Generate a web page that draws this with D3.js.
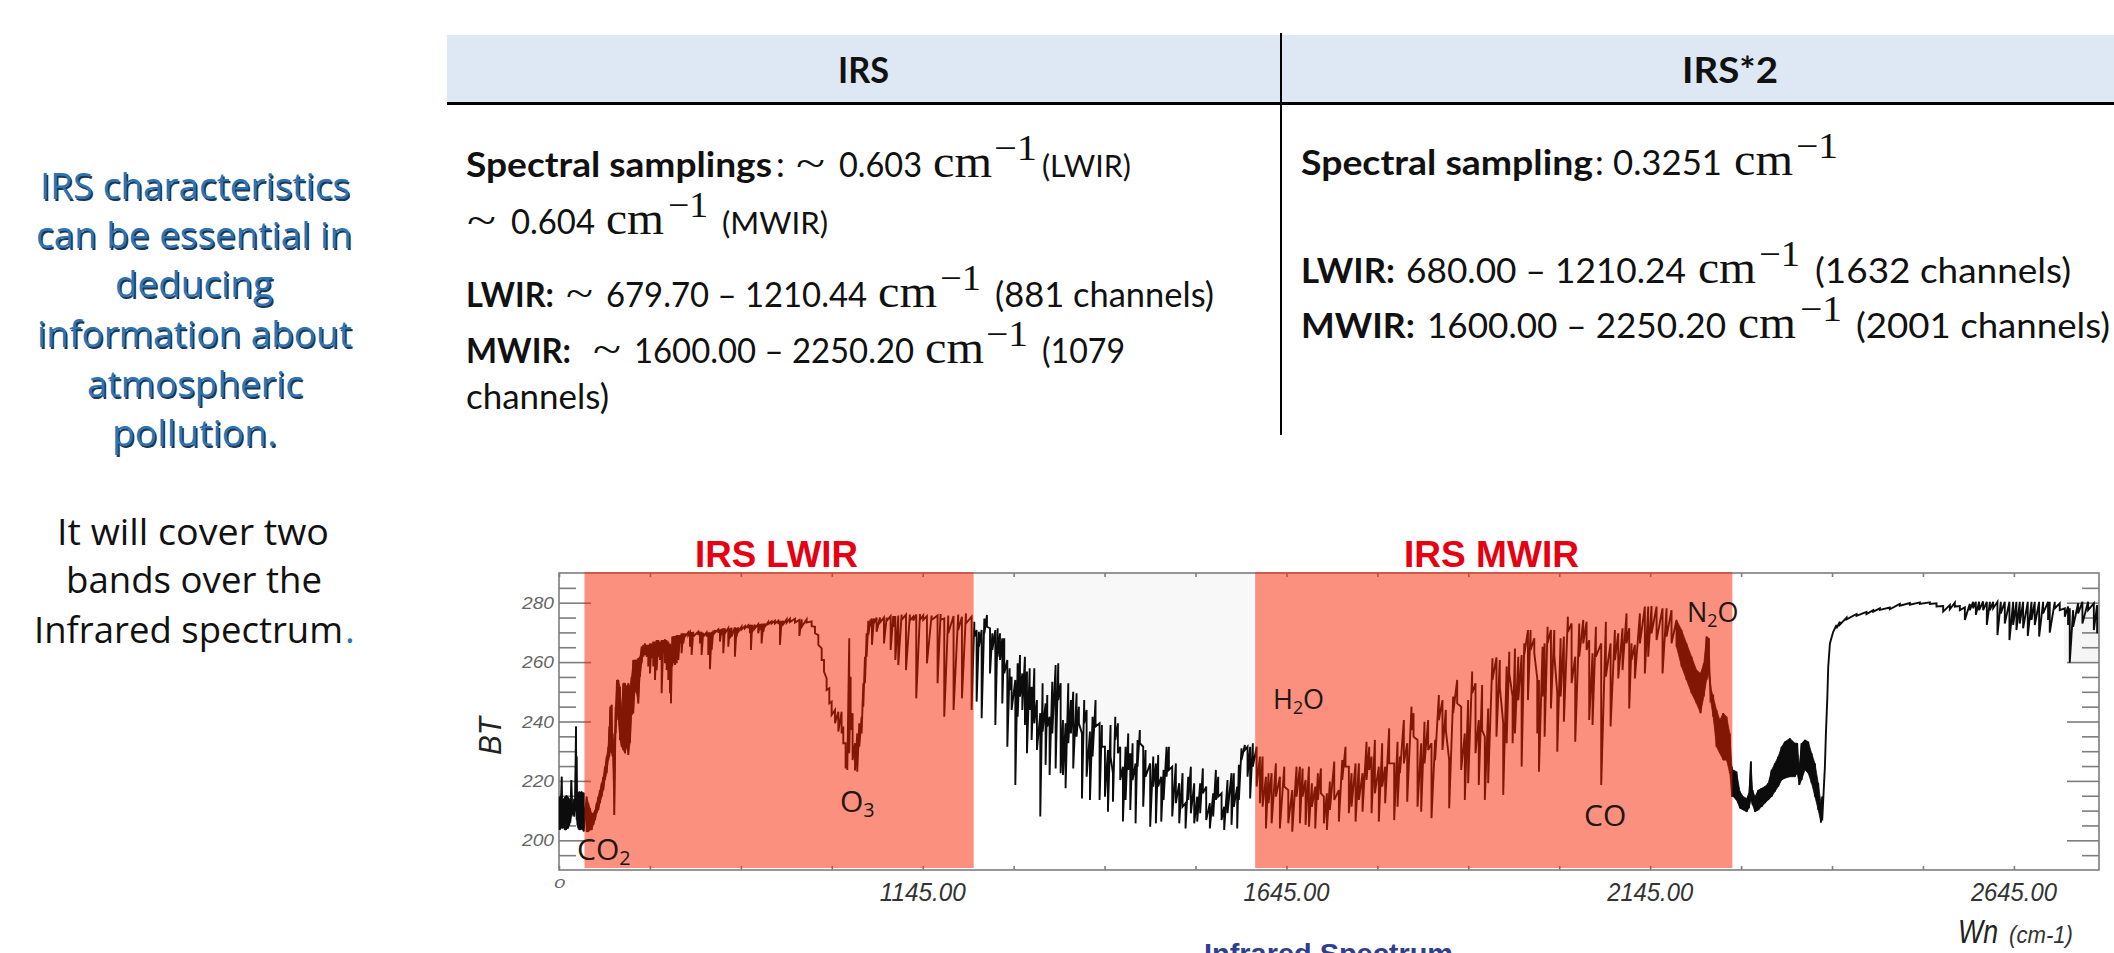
<!DOCTYPE html>
<html>
<head>
<meta charset="utf-8">
<style>
  body { margin: 0; background: white; }
  svg { display: block; }
  text { font-family: Lato, sans-serif; fill: #111; }
  .bold { font-weight: 700; }
  .math { font-family: "Liberation Serif", serif; }
  .side { font-family: "Open Sans", sans-serif; }
  .chart { font-family: "Liberation Sans", sans-serif; }
  .gas { font-family: "Open Sans", sans-serif; fill: #231512; }
</style>
<script src="https://cdn.jsdelivr.net/npm/d3@7"></script>
</head>
<body>
<svg id="slide" width="2114" height="953"></svg>
<script>
// each row: wavenumber, top of the trace, bottom of the trace (BT)
const farLeft = [[646,214.7,203.5],[647.5,215,204],[648.7,221.4,204.5],[650,213.5,204],[651.5,214,204.5],[653,214.5,203.5],[654.5,215,203.5],[656,215,204],[657.5,214.5,204],[659,214,205],[660.5,213,206],[662,220.3,208],[664,212,209],[666,214,208],[667,214,210],[668.4,238.3,213],[669.3,228.2,207],[670.5,215,205],[671.6,216,204],[673,216.4,203.5],[674.5,216,203.5],[676,216.4,204],[677.5,216,203.5],[679,216,203]];

const co2Rise = [[683,214.7,202.9],[685.3,212.5,202.9],[687.6,210.8,203.5],[689.9,209.1,203.5],[692.2,209.1,205.2],[694.5,210.2,206.8],[696.8,212.5,209.1],[699,214.7,210.2],[701.3,216.9,212.5],[703.6,219.2,214.7],[705.9,221.4,216.9],[708.2,224.8,220.3],[710.5,228.2,222.6],[712.8,231.5,227],[714.2,238.3,228.2],[715.5,245,230.4],[717.4,245.6,229.3],[718.7,236,228.2],[721,231.5,208.5],[722.9,245,236],[724.7,254,242.8],[726.5,254,240.5],[728.8,251.7,233.8],[731.1,243.9,231.5],[733.4,252.9,230.4],[735.7,252.9,229.3],[738,251.7,231.5],[740.3,252.9,228.7],[742.6,251.7,232.7],[744.8,255.1,242.2],[747.1,260.7,242.8],[749.4,260.7,250.6],[751.7,260.7,249.5],[754,261.3,246.1],[756.3,261.8,255.1],[758.6,265.2,259.6]];

const windowLwir = [[760.9,265.8,261.8],[763.2,266.3,262.4],[765.5,265.8,261.8],[767.7,265.8,258.5],[770,266.3,256.2],[772.3,266.3,261.3],[774.6,266.9,258.5],[776.9,266.9,254],[779.2,267.4,257.3],[781.5,267.4,261.8],[783.8,266.9,260.7],[786.1,267.4,249.5],[788.4,267.4,263],[790.6,267.7,259.6],[792.9,267.4,257.3],[795.2,266.9,254],[797.5,266.3,249.5],[798.9,265.8,246.1],[800.7,268.6,258.5],[802.5,268.8,259.6],[804.4,268.8,259],[806.7,269.1,259.6],[809,269.1,260.7],[811.3,269.1,266.3],[813.5,269.7,263],[815.8,269.7,266.3],[818.1,269.7,268.6],[822.7,270,269.1],[825,270,265.2],[827.3,270.1,262.4],[829.6,270.2,268.6],[836.4,270.2,269.1],[838.7,270.2,266.3],[841,270.2,262.4],[843.3,269.9,268.6],[847.9,270,268.6],[850.2,270,262.4],[852.5,270,257.6],[854.8,270.2,264.1],[857.1,270.6,269.1],[859.3,270.8,269.9],[863.9,271,269.9],[866.2,271,266.9],[868.5,271.2,269.1],[870.8,271.4,263],[873.1,271.4,269.7],[877.7,271.4,265.2],[880,271.4,268],[882.2,271.6,268.6],[886.8,271.7,261.8],[889.1,271.6,268.6],[891.4,271.7,270.2],[896,271.9,271],[900.6,272.1,271.4],[905.1,272.4,271.4],[907.4,272.5,269.7],[908.8,272.6,264.1],[910.6,272.6,270.2],[914.3,272.6,271.4],[918.9,272.8,269.7],[921.2,272.8,270.8],[923.5,272.9,266.3],[925.8,273,270.2],[928,273,271.9],[932.6,273.5,272.8],[937.2,273.7,273],[941.8,273.9,273],[946.4,273.9,272.8],[948.7,273.9,265.8],[950.9,273.9,272.5],[953.4,273.9,272.8],[958,274.4,273.3],[962.5,274.6,273.5],[969.4,274.6,273.3],[975.4,274.2,268.8],[978.6,274.4,271.9],[985.4,274.4,273.3],[992.3,273.7,272.1],[996.9,271.9,269.7]];

const ozoneBand = [[1001.5,269.1,265.8],[1006.1,264.6,260.7],[1009.3,260.7,256.8],[1012.9,254.5,250.6],[1016.6,251.2,246.1],[1019.8,246.7,242.2],[1024.4,243.9,239.4],[1029,243.3,236.6],[1033.5,243.3,236],[1035.8,238.3,232.7],[1039,232.7,224.2],[1041.3,228.2,223.7],[1044,268,229.3],[1045.9,255.1,237.2],[1048.6,242.8,227],[1051.9,232.7,223.5],[1055,236,223.1],[1057.8,239.4,231.5],[1061,241.6,236],[1063.3,252.9,245],[1065.6,261.8,252.9],[1067.9,269.7,261.8],[1070.2,273.9,269.1]];

const windowUpper = [[1073.4,274.4,272.1],[1075.2,274.7,265.8],[1078,274.7,273],[1081.6,275,270.2],[1086.2,275,273.3],[1091.7,275,266.3],[1095.4,275,273.9],[1100.9,275.5,264.1],[1104.5,275.5,271.9],[1107.3,275.5,260.7],[1111.4,275.7,259],[1116,276,274.2],[1122,276,257.3],[1127.4,276,274],[1132,275.3,274],[1136.1,276,247.8],[1141.2,276.2,274.2],[1145.7,275.7,274.2],[1150.8,275.5,259.6],[1157.2,275.7,274.2],[1165.4,275.7,252.9],[1169.6,276.2,274.2],[1174.6,274.7,241.6],[1180.1,275.7,269.7],[1187.4,275.5,243.9],[1193.8,276,270.8],[1198.9,275.3,247.8],[1204.4,276.4,273],[1212.2,275.3,243.9]];

const gapRows = [[1215.9,273.6,268.6],[1219.1,270.8,246.7],[1222.3,270.2,265.2],[1226,270.8,241.1],[1229.7,274.7,269.7],[1233.3,275.9,271.9],[1237.5,271.4,256.2],[1240.7,269.7,264.1],[1244.8,270.8,238.8],[1248,271.4,261.8],[1251.2,269.7,260.7],[1254.4,268,246.1],[1257.1,268,256.2],[1261.3,260.7,231.5],[1264.5,257.9,250.6],[1267.2,255.1,243.9],[1272.3,254,218.6],[1275.5,259.6,241.6],[1278.7,262.4,248.4],[1281.9,256.2,243.9],[1285.5,261.8,238.8],[1288.3,256.8,229.3],[1292,257.9,243.9],[1294.7,251.7,233.8],[1298.4,257.9,239.4],[1302,247.2,230.4],[1306.6,242.8,208],[1309.8,252.9,236.6],[1313.9,246.1,225.4],[1316.2,248.9,238.3],[1319.4,241.6,222],[1323.1,253.4,236],[1327.7,259,224.2],[1331.3,259.6,247.2],[1334.6,252.9,222.6],[1337.8,240.5,222],[1341.4,239.4,217.5],[1345.1,252.9,232.7],[1348.7,247.2,236],[1351.9,250,224.2],[1356.5,249.5,234.9],[1359.7,245,239.4],[1363.9,236,214.1],[1367,247.2,239.4],[1370.3,243.9,221.4],[1374.9,236.6,213.6],[1378.5,241.6,228.2],[1382.6,247.2,238.3],[1388.1,239.4,213.6],[1391.3,238.8,231.5],[1395.5,231.5,214.7],[1399.6,230.4,209.6],[1403.2,238.8,228.2],[1406.5,222.6,213],[1409.7,241.6,233.8],[1413.3,239.4,229.3],[1416.5,231.5,220.3],[1420.2,224.8,206.3],[1423.9,231.5,213.6],[1427.5,236,223.7],[1430.3,229.3,210.2],[1433.5,232.7,220.3],[1437.6,225.9,205.7],[1440.3,233.8,224.8],[1443.5,237.1,232.7],[1448.1,231.5,211.3],[1451.3,230.4,221.4],[1457.7,225.9,204.6],[1461.9,228.2,218.1],[1465.5,225.9,205.7],[1468.7,228.7,218.1],[1472.9,221.4,206.3],[1476.1,223.7,213.6],[1480.2,231.5,221.4],[1483.4,231.5,223.7],[1488,224.8,208],[1493,225.9,212.5],[1497.6,219.2,205.7],[1502.2,222.6,211.3],[1506.3,212.5,204],[1510,221.4,213.6],[1513.6,224.8,209.1],[1518.2,219.2,205.7],[1522.3,214.7,206.3],[1526.4,219.2,209.1],[1530.1,224.2,215.8],[1534.7,218.1,206.8],[1539.7,212.5,204],[1544.3,215.8,208],[1548,223.7,213.6],[1551.2,221.4,214.7],[1555.8,215.8,206.8],[1559.4,211.3,203.5],[1564,220.3,209.1],[1569.5,222.6,205.2],[1572.7,222.6,211.3],[1577.3,218.1,204],[1579.6,225.4,213.6],[1583.2,231,227],[1587.8,232.1,230.4],[1591.5,231.5,221.4],[1595.1,231.5,214.1],[1598.8,232.7,224.8]];

const waterBand = [[1604,231.5,218.1],[1608.5,228.2,212.5],[1612.2,228.2,211.3],[1616.8,221.4,204],[1620.4,222.6,212.5],[1624.6,222.6,205.7],[1630.5,225.9,214.7],[1636,221.4,204],[1642,224.8,218.1],[1647.5,216.9,205.7],[1653,216.9,202.9],[1658.9,224.8,214.7],[1663.5,224.8,205.7],[1667.2,224.2,214.7],[1671.3,220.3,205.2],[1675.9,224.8,204.6],[1680,219.2,211.3],[1684.6,218.1,204],[1688.2,222.6,213.6],[1692.4,224.2,215.8],[1696.5,214.7,205.7],[1700.6,215.8,203.5],[1704.7,219.8,210.2],[1710.7,226.5,213.6],[1717.1,216.9,206.3],[1721.7,227,220.3],[1726.2,231.5,224.8],[1730.8,224.8,209.1],[1734.5,222.6,211.3],[1740,225.9,206.3],[1744.6,225.9,213.6],[1749.6,222.6,209.6],[1755.1,233.2,220.3],[1758.8,231.5,223.7],[1762,228.2,209.1],[1766.6,233.8,215.8],[1772,224.8,206.3],[1776.6,232.7,218.1],[1780.7,224.8,212.5],[1786.2,237.7,225.9],[1793.1,225.9,206.8],[1797.7,233.2,211.3],[1801,228.2,222.6],[1806.4,240.5,225.9],[1811,232.7,213],[1816.9,245,237.1],[1819.7,242.8,234.9],[1825.2,233.8,211.3],[1830.2,232.7,209.6],[1834.8,239.9,225.9],[1839.8,240.5,230.4],[1844.4,232.7,207.4],[1849.4,233.8,227],[1854.5,248.9,240.5],[1859.5,247.2,230.4],[1864.1,243.9,237.1],[1868.7,227,210.8],[1874.2,248.4,242.8],[1879.7,254,246.1],[1885.2,245,223.7],[1890.2,236,213.6],[1894.8,247.2,219.2],[1900.3,256.8,249.5],[1904.9,252.9,229.3],[1909.4,240.5,218.6],[1914,252.3,237.1],[1917.7,234.9,213.6],[1922.3,244.4,219.2],[1928.2,261.3,254],[1933.7,261.6,234.9],[1938.3,260.7,251.7],[1943,239.4,215.3],[1947.7,258.5,232.7],[1951.3,263.5,256.2],[1955.9,248.4,232.7],[1959.1,264.6,236],[1963.7,261.8,247.2],[1968.3,262.4,224.8],[1971.9,266.3,262.4],[1977,270.8,247.2],[1980.6,270.8,264.1],[1985.7,268,263],[1989.8,254.5,236],[1992.1,254,223.1],[1997.1,265.2,248.4],[1999.9,266.3,234.9],[2004,271.9,266.3],[2008.6,270.8,244.4],[2013.2,270.8,262.4],[2017.3,249.5,229.8],[2021.9,268,248.4],[2026.4,268.6,239.9],[2031.9,275.3,270.2],[2037,273,252.9],[2042,261.8,233.2],[2047.5,273,261.8],[2053,274.2,266.3],[2057.6,273.6,264.1],[2061.2,267.4,240.5],[2065.8,263,238.8],[2070.4,271.9,261.8],[2077.7,266.3,218.6],[2084.1,273.6,255.1],[2090.6,266.3,238.3],[2096.5,270.8,260.7],[2101.1,269.7,254.5],[2107,271.4,257.3],[2112.5,276.4,266.3],[2116.2,271.4,244.4],[2119.4,266.3,260.7],[2124,265.8,254.5],[2130.9,276.4,266.3],[2137.7,278.7,256.2],[2142.3,278.7,261.8],[2146.9,278.9,269.7],[2153.8,278.7,267.4],[2162,278.1,256.2],[2167.5,278.1,268.6],[2174.4,277.5,266.3]];

// the falling wing and the bump after it read as a solid band
const fallingWing = [[2181.2,274.2,265.2],[2188.1,270.8,258.5],[2195,266.3,254],[2201.9,261.8,249.5],[2208.7,257.3,246.1],[2214.2,256.2,242.8],[2218.8,259.6,248.4],[2222.5,268.6,254],[2225.7,268,256.8],[2228,251.7,247.2],[2231.6,248.4,241.6],[2236.2,243.9,231.5],[2240.8,240.5,229.3],[2245.4,242.8,227],[2250,241.6,227],[2254.5,236,222.6],[2257.3,224.8,214.7]];

const secondBump = [[2259.1,223.7,214.7],[2263.7,223.1,213.6],[2268.4,216.4,210.8],[2273,214.7,210.2],[2277.6,214.1,209.6],[2280.8,215.8,210.8],[2283.5,226.5,213.6],[2285.8,216.9,211.9],[2289.1,214.7,209.6],[2293.6,216.9,210.2],[2298.2,217.5,211.3],[2302.8,218.1,212.5],[2307.3,219.2,213.6],[2312,223.7,214.7],[2316.5,225.9,216.4],[2321.1,228.2,218.1],[2325.7,231.5,220.3],[2330.2,233.2,220.9],[2337.1,234.3,221.4],[2344,232.7,221.4],[2347.2,232.7,222.6],[2350,224.8,218.6],[2353.1,232.7,220.3],[2357.7,233.8,223.7],[2362.3,233.2,222.6],[2366.9,229.3,219.2],[2371.5,225.9,214.7],[2376.1,219.2,210.2],[2379.7,212.5,206],[2381.5,214.7,206.8]];

const risingEdge = [[2385.2,224.8,224.8],[2386.6,236,236],[2388.4,247.2,247.2],[2389.8,258.5,258.5],[2392.1,266.3,266.3],[2396.6,270.2,270.2]];

const highWing = [[2401.2,272.5,271.4],[2405.8,273.6,272.6],[2415,275,274.4],[2428.7,276.2,275.6],[2442.4,276.9,276.2],[2451.6,277.5,277],[2460.8,278.1,277.6],[2474.5,278.4,277.8],[2488.2,279.6,279],[2502,279.9,279.3],[2515.7,280.1,279.6],[2529.5,280.1,279.6],[2538.6,279.8,278.7],[2547.8,278.9,277],[2557,279.2,277.8],[2563.8,280,278.7],[2570.7,278.9,277.5],[2577.6,278.4,274.2],[2584.4,279.6,277.5],[2589,280.3,278.1],[2592.7,280.3,275.9],[2597.2,280.3,277.5],[2602.7,280.4,277.5],[2607.8,280.3,272.5],[2612,280.3,277.5],[2616.5,280.3,278.1],[2622.4,280.3,269.1],[2627,280.3,276.4],[2632.5,280.3,273],[2638.9,280.3,267.4],[2644,280.3,272.5],[2648.5,280.3,270.8],[2653.1,280.3,273],[2657.7,280.3,271.4],[2664.1,280.3,268.8],[2669.2,280.3,274.2],[2673.7,280.3,272.5],[2679.7,280.3,268.6],[2685.2,280.3,276.4],[2692,280.3,274.2],[2694.3,280.3,269.9],[2701.2,280.3,278.1],[2708,279.8,277.5],[2715,278.1,275.3],[2719.5,278.7,272.5],[2721.8,278.1,259.8],[2726.4,277.5,271.9],[2733.3,279.8,276.4],[2739.2,280.3,273],[2747,280.3,277.5],[2754.9,279.8,270.8],[2759.4,279.2,269.7]];

// band limits in cm-1
const lwirBand = [680, 1215];
const mwirBand = [1602, 2258];
const bandNames = ["IRS LWIR", "IRS MWIR"];

const xDomain = [645, 2762];
const yDomain = [190, 290];
const xTicks = [645,770,895,1020,1145,1270,1395,1520,1645,1770,1895,2020,2145,2270,2395,2520,2645];
const xLabelled = [1145, 1645, 2145, 2645];
const yMajor = [200, 220, 240, 260, 280];
const yMinor = [195,205,210,215,225,230,235,245,250,255,265,270,275,285];

const svg = d3.select("#slide");

// positions one run of text and forces its measured width
function put(parent, x, y, str, cls, size, width) {
  let t = parent.append("text").attr("x", x).attr("y", y).attr("class", cls).style("font-size", size + "px").text(str);
  if (width) t.attr("textLength", width).attr("lengthAdjust", "spacingAndGlyphs");
  return t;
}

function drawHeader() {
  svg.append("rect").attr("x", 447).attr("y", 35).attr("width", 1667).attr("height", 67).attr("fill", "#dde8f4");
  svg.append("rect").attr("x", 447).attr("y", 102).attr("width", 1667).attr("height", 3).attr("fill", "#000");
  svg.append("rect").attr("x", 1280).attr("y", 33).attr("width", 2).attr("height", 402).attr("fill", "#000");
  put(svg, 838, 83, "IRS", "bold", 36, 51);
  put(svg, 1682, 83, "IRS*2", "bold", 36, 96);
}

function cm(x, y, wCm, supX, wSup) {
  put(svg, x, y, "cm", "math", 46, wCm);
  put(svg, supX, y - 17, "\u22121", "math", 36, wSup);
}

function drawTable() {
  let size = 35;
  // left column
  put(svg, 466, 177, "Spectral samplings", "bold", size, 306);
  put(svg, 776, 177, ":", "", size);
  put(svg, 796, 177, "~", "math", 40, 29);
  put(svg, 839, 177, "0.603", "", size, 83);
  cm(933, 177, 59, 994, 43);
  put(svg, 1042, 177, "(LWIR)", "", 30, 89);

  put(svg, 467, 234, "~", "math", 40, 29);
  put(svg, 511, 234, "0.604", "", size, 84);
  cm(606, 234, 58, 668, 40);
  put(svg, 722, 234, "(MWIR)", "", 30, 106);

  put(svg, 466, 307, "LWIR:", "bold", size, 88);
  put(svg, 566, 307, "~", "math", 40, 27);
  put(svg, 606, 307, "679.70 \u2013 1210.44", "", size, 261);
  cm(878, 307, 59, 940, 41);
  put(svg, 995, 307, "(881 channels)", "", size, 219);

  put(svg, 466, 363, "MWIR:", "bold", size, 105);
  put(svg, 593, 363, "~", "math", 40, 28);
  put(svg, 634, 363, "1600.00 \u2013 2250.20", "", size, 280);
  cm(925, 363, 59, 986, 42);
  put(svg, 1042, 363, "(1079", "", size, 83);
  put(svg, 466, 409, "channels)", "", size, 143);

  // right column
  put(svg, 1301, 175, "Spectral sampling", "bold", size, 292);
  put(svg, 1595, 175, ":", "", size);
  put(svg, 1613, 175, "0.3251", "", size, 109);
  cm(1734, 175, 59, 1796, 42);

  put(svg, 1301, 283, "LWIR:", "bold", size, 94);
  put(svg, 1406, 283, "680.00 \u2013 1210.24", "", size, 280);
  cm(1698, 283, 58, 1759, 41);
  put(svg, 1815, 283, "(1632 channels)", "", size, 256);

  put(svg, 1301, 338, "MWIR:", "bold", size, 114);
  put(svg, 1427, 338, "1600.00 \u2013 2250.20", "", size, 299);
  cm(1738, 338, 58, 1800, 42);
  put(svg, 1856, 338, "(2001 channels)", "", size, 254);
}

function drawSideText() {
  let size = 37;
  let blue = [["IRS characteristics", 40, 199, 310], ["can be essential in", 36, 248, 316], ["deducing", 115, 297, 158], ["information about", 37, 347, 315], ["atmospheric", 87, 397, 216], ["pollution.", 112, 446, 165]];
  blue.forEach(d => {
    put(svg, d[1] + 1.5, d[2] + 1.5, d[0], "side", size, d[3]).style("fill", "#1c3550");
    put(svg, d[1], d[2], d[0], "side", size, d[3]).style("fill", "#2e74b5");
  });
  put(svg, 57, 545, "It will cover two", "side", size, 272).style("fill", "#111");
  put(svg, 66, 593, "bands over the", "side", size, 256).style("fill", "#111");
  put(svg, 34, 643, "Infrared spectrum", "side", size, 309).style("fill", "#111");
  put(svg, 345, 643, ".", "side", size).style("fill", "#2e74b5");
}

function drawChart() {
  let left = 559, right = 2099, top = 573, bottom = 870;
  let x = d3.scaleLinear().domain(xDomain).range([left, right]);
  let y = d3.scaleLinear().domain(yDomain).range([bottom, top]);

  let allRows = [...farLeft, ...co2Rise, ...windowLwir, ...ozoneBand, ...windowUpper, ...gapRows, ...waterBand, ...fallingWing, ...secondBump, ...risingEdge, ...highWing];

  // faint grey patches behind the trace
  let topArea = d3.area().x(d => x(d[0])).y0(top).y1(d => y(d[1]));
  svg.append("path").datum(gapRows).attr("d", topArea).attr("fill", "#f8f8f8");
  svg.append("rect").attr("x", x(2714)).attr("y", top + 27).attr("width", right - x(2714)).attr("height", y(259.6) - top - 27).attr("fill", "#f5f5f5");

  // axes: ticks point into the box on all four sides
  let axisColor = "#7d7d7d";
  let styleAxis = g => {
    g.selectAll("path").remove();
    g.selectAll("line").attr("stroke", axisColor).attr("stroke-width", 1.6);
    g.selectAll("text").remove();
  };
  svg.append("g").attr("transform", `translate(${left},0)`).call(d3.axisLeft(y).tickValues(yMajor).tickSize(-32)).call(styleAxis);
  svg.append("g").attr("transform", `translate(${left},0)`).call(d3.axisLeft(y).tickValues(yMinor).tickSize(-17)).call(styleAxis);
  svg.append("g").attr("transform", `translate(${right},0)`).call(d3.axisRight(y).tickValues(yMajor).tickSize(-32)).call(styleAxis);
  svg.append("g").attr("transform", `translate(${right},0)`).call(d3.axisRight(y).tickValues(yMinor).tickSize(-17)).call(styleAxis);
  svg.append("g").attr("transform", `translate(0,${top})`).call(d3.axisTop(x).tickValues(xTicks).tickSize(-4)).call(styleAxis);
  svg.append("g").attr("transform", `translate(0,${bottom})`).call(d3.axisBottom(x).tickValues(xTicks).tickSize(-4)).call(styleAxis);
  svg.append("rect").attr("x", left).attr("y", top).attr("width", right - left).attr("height", bottom - top)
    .attr("fill", "none").attr("stroke", axisColor).attr("stroke-width", 1.6);

  // solid parts of the trace
  let envelope = d3.area().x(d => x(d[0])).y0(d => y(d[2])).y1(d => y(d[1]));
  [farLeft, co2Rise, fallingWing, secondBump].forEach(rows => {
    svg.append("path").datum(rows).attr("d", envelope).attr("fill", "#0c0c0c").attr("stroke", "#0c0c0c").attr("stroke-width", 0.8);
  });

  // the spectrum: every row is a stroke from its top value to its bottom value
  let zigzag = allRows.flatMap(d => [[d[0], d[1]], [d[0], d[2]]]);
  let line = d3.line().x(d => x(d[0])).y(d => y(d[1]));
  svg.append("path").datum(zigzag).attr("d", line).attr("fill", "none").attr("stroke", "#0c0c0c").attr("stroke-width", 1.9);

  // the two translucent band rectangles go over the trace
  [lwirBand, mwirBand].forEach(b => {
    svg.append("rect").attr("x", x(b[0])).attr("y", top - 1).attr("width", x(b[1]) - x(b[0])).attr("height", bottom - top - 1)
      .attr("fill", "#f72100").attr("opacity", 0.5);
  });

  // tick labels
  let tickText = (xp, yp, str, size, width) => put(svg, xp, yp, str, "chart", size, width).style("font-style", "italic").style("fill", "#333");
  yMajor.forEach(v => tickText(522, y(v) + 6, String(v), 16, 32).style("fill", "#666"));
  tickText(554, 888, "0", 12, 11).style("fill", "#666");
  xLabelled.forEach(v => tickText(x(v) - 43, 901, v.toFixed(2), 26, 86));

  put(svg, 501, 755, "BT", "chart", 32, 38).style("font-style", "italic").style("fill", "#222")
    .attr("transform", "rotate(-90 501 755)");
  put(svg, 1958, 943, "Wn", "chart", 33, 40).style("font-style", "italic").style("fill", "#222");
  put(svg, 2009, 943, "(cm-1)", "chart", 24, 64).style("font-style", "italic").style("fill", "#333");

  // band titles and blue caption
  put(svg, 695, 567, bandNames[0], "chart bold", 36, 163).style("fill", "#e60012");
  put(svg, 1404, 567, bandNames[1], "chart bold", 36, 175).style("fill", "#e60012");
  put(svg, 1204, 963, "Infrared Spectrum", "chart bold", 28, 249).style("fill", "#2f3f8f");

  // gas labels
  gasLabel(577, 860, "CO", "2", "", 30);
  gasLabel(840, 812, "O", "3", "", 30);
  gasLabel(1273, 709, "H", "2", "O", 27);
  gasLabel(1584, 826, "CO", "", "", 30);
  gasLabel(1687, 622, "N", "2", "O", 27);
}

function gasLabel(xp, yp, a, sub, b, size) {
  let t = svg.append("text").attr("class", "gas").attr("x", xp).attr("y", yp).style("font-size", size + "px");
  t.append("tspan").text(a);
  if (sub) t.append("tspan").attr("dy", 5).style("font-size", size * 0.66 + "px").text(sub);
  if (b) t.append("tspan").attr("dy", -5).text(b);
}

drawHeader();
drawTable();
drawSideText();
drawChart();
</script>
</body>
</html>
